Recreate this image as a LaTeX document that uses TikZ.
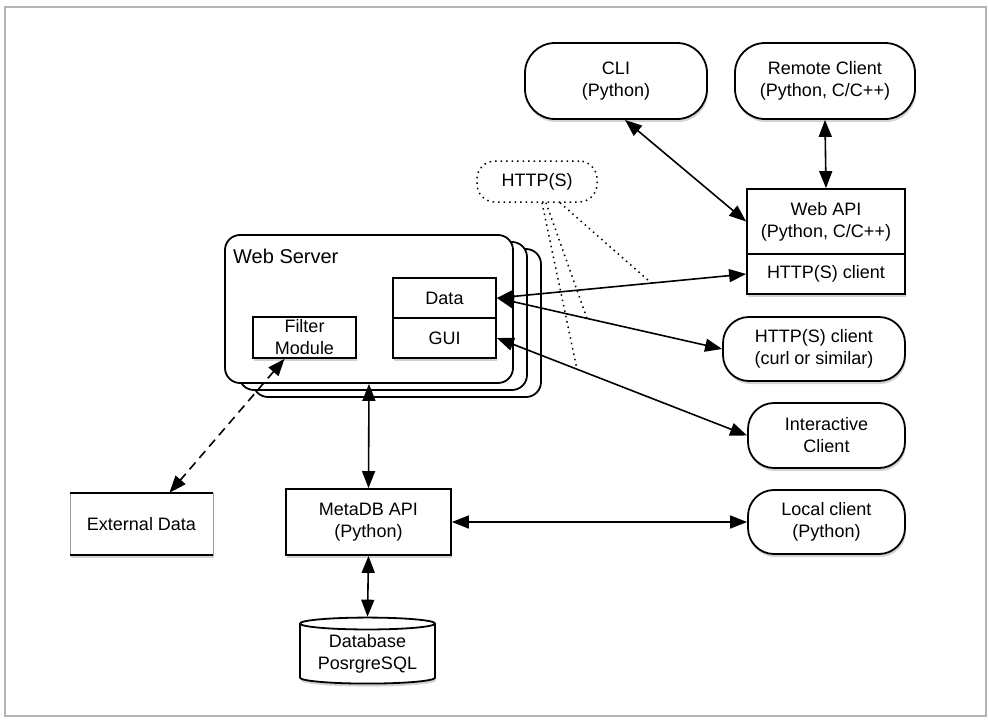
\documentclass[tikz,border=0pt]{standalone}
\usepackage{fontspec}
\setmainfont{Liberation Sans}
\usetikzlibrary{arrows.meta,shapes.geometric,shadows}
\definecolor{ink}{HTML}{000000}
\definecolor{frame}{HTML}{B4B4B4}
\definecolor{side}{HTML}{9A9A9A}
\tikzset{
  txt/.style={font=\fontsize{18}{22}\selectfont, align=center},
  box/.style={txt, draw=ink, line width=1.8pt, fill=white, inner sep=0pt,
    drop shadow={shadow xshift=1pt, shadow yshift=-3pt, opacity=0.35}},
  client/.style={box, rounded corners=26pt},
  srv/.style={draw=ink, line width=1.8pt, fill=white, rounded corners=15pt,
    minimum width=288pt, minimum height=148pt, inner sep=0pt},
  link/.style={draw=ink, line width=1.6pt,
    {Triangle[length=17pt, width=13pt]}-{Triangle[length=17pt, width=13pt]}},
  extlink/.style={link, dash pattern=on 9pt off 6pt},
  proto/.style={draw=ink, line width=1.5pt, dash pattern=on 1.5pt off 4pt},
}

\begin{document}
\begin{tikzpicture}[x=1pt, y=-1pt]
  \useasboundingbox (0,0) rectangle (989,720);
  \draw[frame, line width=2pt] (5,7) rectangle (986,716);

  % web server stack
  \node[srv] (ws3) at (397,323) {};
  \node[srv] (ws2) at (383,316) {};
  \node[srv] (ws) at (369,309) {};
  \node[anchor=base west, font=\fontsize{20}{24}\selectfont, inner sep=0pt] (wslabel) at (233,263) {Web Server};
  \node[box, minimum width=103pt, minimum height=40pt] (data) at (444.5,298) {Data};
  \node[box, minimum width=103pt, minimum height=40pt] (gui) at (444.5,338) {GUI};
  \node[box, minimum width=103pt, minimum height=41pt] (filter) at (304.5,337.5) {Filter\\Module};

  % clients
  \node[client, minimum width=182pt, minimum height=76pt, rounded corners=30pt] (cli) at (616,81) {CLI\\(Python)};
  \node[client, minimum width=180pt, minimum height=76pt, rounded corners=30pt] (remote) at (825,81) {Remote Client\\(Python, C/C++)};
  \node[box, minimum width=158pt, minimum height=65pt] (webapi) at (826,221.5) {Web API\\(Python, C/C++)};
  \node[box, minimum width=158pt, minimum height=40pt] (webcli) at (826,274) {HTTP(S) client};
  \node[client, minimum width=182pt, minimum height=64pt] (curl) at (814,349) {HTTP(S) client\\(curl or similar)};
  \node[client, minimum width=157pt, minimum height=65pt] (inter) at (826.5,435.5) {Interactive\\Client};
  \node[client, minimum width=157pt, minimum height=64pt] (local) at (826.5,522) {Local client\\(Python)};
  \node[txt, draw=ink, line width=1.5pt, dash pattern=on 1.5pt off 4pt, rounded corners=18pt,
    minimum width=120pt, minimum height=41pt, inner sep=0pt] (proto) at (537,181.5) {HTTP(S)};

  % storage side
  \node[box, draw=side, line width=0.6pt, minimum width=143pt, minimum height=62pt] (ext) at (141.5,524) {External Data};
  \draw[ink, line width=1.8pt] (ext.north west) -- (ext.north east);
  \draw[ink, line width=1.8pt] (ext.south west) -- (ext.south east);
  \node[box, minimum width=165pt, minimum height=66pt] (metadb) at (368.5,522) {MetaDB API\\(Python)};
  \node[box, cylinder, shape border rotate=90, aspect=0.12, minimum width=135pt, minimum height=66pt] (db) at (367.5,654) {Database\\PosrgreSQL};

  % connectors
  \draw[link] ([xshift=9pt]cli.south) -- (webapi.west);
  \draw[link] (remote.south) -- (webapi.north);
  \draw[link] (data.east) -- coordinate[pos=0.62] (pa) (webcli.west);
  \draw[link] (data.east) -- coordinate[pos=0.40] (pb) (curl.west);
  \draw[link] (gui.east) -- coordinate[pos=0.32] (pc) (inter.west);
  \draw[link] (ws.south) -- (metadb.north);
  \draw[link] (metadb.east) -- (local.west);
  \draw[link] (metadb.south) -- (db.top);
  \draw[extlink] ([xshift=-20pt]filter.south) -- ([xshift=28pt]ext.north);

  \draw[proto] ([xshift=5pt]proto.south) -- (pc);
  \draw[proto] ([xshift=9pt]proto.south) -- (pb);
  \draw[proto] ([xshift=23pt]proto.south) -- (pa);
\end{tikzpicture}
\end{document}
